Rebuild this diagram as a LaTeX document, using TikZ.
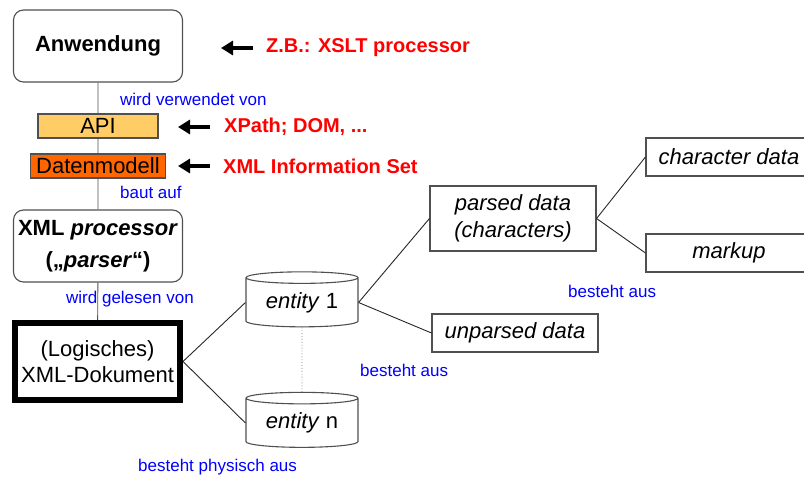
\documentclass[tikz,border=0pt]{standalone}
\usepackage{fontspec}
\setmainfont{Liberation Sans}
\usetikzlibrary{positioning, arrows.meta, shapes.geometric}

\definecolor{apiorange}{RGB}{255,204,102}
\definecolor{dmorange}{RGB}{255,102,0}
\definecolor{edgegray}{RGB}{80,80,80}

\begin{document}
\begin{tikzpicture}[
            x=1pt, y=-1pt,
            big/.style={font=\fontsize{22}{26.4}\selectfont},
            box/.style={rectangle, draw=edgegray, line width=1.1pt, big,
                    align=center, inner sep=2pt},
            rbox/.style={box, rounded corners=10pt, minimum width=169pt, minimum height=72pt,
                    font=\fontsize{22}{26.4}\selectfont\bfseries},
            ebox/.style={box, minimum width=166pt, font=\fontsize{22}{26.4}\selectfont\itshape},
            cyl/.style={cylinder, shape border rotate=90, draw=edgegray, line width=1.1pt,
                    aspect=0.16, minimum width=112pt, minimum height=55pt, big, inner sep=0pt},
            note/.style={anchor=west, inner sep=0pt, text=red,
                    font=\fontsize{20}{24}\selectfont\bfseries},
            rel/.style={anchor=west, inner sep=0pt, text=blue,
                    font=\fontsize{17}{20}\selectfont},
            pointer/.style={-{Triangle[length=12pt, width=14pt]}, line width=3.5pt, black},
            link/.style={draw=black!85, line width=0.9pt},
            ]

            \clip (0,0) rectangle (804,477);

            % layer stack
            \node[rbox] (anw) at (98,46) {Anwendung};
            \node[box, fill=apiorange, minimum width=120pt, minimum height=24pt] (api) at (98,126) {API};
            \node[box, fill=dmorange, minimum width=135pt, minimum height=24pt] (dm) at (98,166) {Datenmodell};
            \node[rbox, align=center] (proc) at (98,246) {XML \textit{processor}\\[6pt](\char"201E\textit{parser}\char"201C)};
            \node[box, draw=black, line width=6pt, minimum width=165pt, minimum height=77pt] (doc) at (97.5,361.5) {(Logisches)\\XML-Dokument};
            \draw[link, draw=edgegray] (anw) -- (api) -- (dm) -- (proc) -- (doc);

            \node[rel] (usedby) at (120,99) {wird verwendet von};
            \node[rel] (builds) at (120,192) {baut auf};
            \node[rel] (readby) at (66,299) {wird gelesen von};

            % remarks
            \node[note] (zb) at (266,48) {Z.B.: XSLT processor};
            \node[note] (xpath) at (224,127) {XPath; DOM, ...};
            \node[note] (infoset) at (223,166) {XML Information Set};
            \draw[pointer] ([xshift=-13pt]zb.west) -- ([xshift=-45pt]zb.west);
            \draw[pointer] ([xshift=-14pt]xpath.west) -- ([xshift=-46pt]xpath.west);
            \draw[pointer] ([xshift=-13pt]infoset.west) -- ([xshift=-45pt]infoset.west);

            % physical structure
            \node[cyl] (ent1) at (302,302.5) {\textit{entity} 1};
            \node[cyl] (entn) at (302,423) {\textit{entity} n};
            \draw[link] (doc.east) -- (ent1.west);
            \draw[link] (doc.east) -- (entn.west);
            \draw[draw=gray, line width=0.9pt, dotted] (ent1.south) -- (entn.north);
            \node[rel] (physical) at (138,467) {besteht physisch aus};

            % content of an entity
            \node[ebox, minimum height=65pt] (parsed) at (513,218.5) {parsed data\\(characters)};
            \node[ebox, minimum height=38pt] (unparsed) at (515,333) {unparsed data};
            \draw[link] (ent1.east) -- (parsed.west);
            \draw[link] (ent1.east) -- (unparsed.west);
            \node[rel] (consists1) at (360,370) {besteht aus};

            \node[ebox, minimum height=38pt] (chardata) at (729,157) {character data};
            \node[ebox, minimum height=38pt] (markup) at (729,253) {markup};
            \draw[link] (parsed.east) -- (chardata.west);
            \draw[link] (parsed.east) -- (markup.west);
            \node[rel] (consists2) at (568,291) {besteht aus};

        \end{tikzpicture}
\end{document}
